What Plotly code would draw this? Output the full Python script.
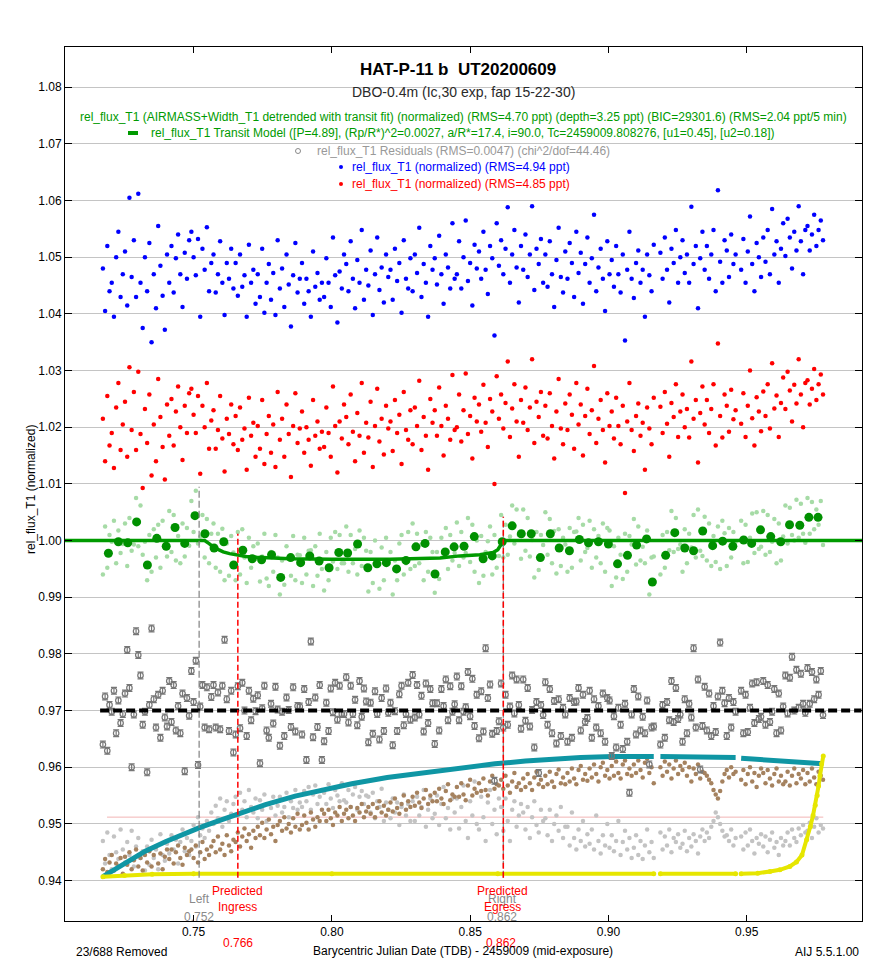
import plotly.graph_objects as go

# ---------------- data ----------------
# exposure mid-times, BJD_TDB - 2459009, in units of 1e-4 day (every other exposure)
TIME_E4 = [
    7172, 7180, 7188, 7196, 7204, 7212, 7220, 7228, 7236, 7244,
    7252, 7260, 7268, 7276, 7284, 7292, 7300, 7308, 7316, 7324,
    7332, 7340, 7348, 7356, 7364, 7372, 7380, 7388, 7396, 7404,
    7412, 7420, 7428, 7436, 7444, 7452, 7460, 7468, 7476, 7484,
    7492, 7500, 7508, 7516, 7524, 7532, 7540, 7548, 7556, 7564,
    7572, 7580, 7588, 7596, 7604, 7612, 7620, 7628, 7636, 7644,
    7652, 7660, 7668, 7676, 7684, 7692, 7700, 7708, 7716, 7724,
    7732, 7740, 7748, 7756, 7764, 7772, 7780, 7788, 7796, 7804,
    7812, 7820, 7828, 7836, 7844, 7852, 7860, 7868, 7876, 7884,
    7892, 7900, 7908, 7916, 7924, 7932, 7940, 7948, 7956, 7964,
    7972, 7980, 7988, 7996, 8004, 8012, 8020, 8028, 8036, 8044,
    8052, 8060, 8068, 8076, 8084, 8092, 8100, 8108, 8116, 8124,
    8132, 8140, 8148, 8156, 8164, 8172, 8180, 8188, 8196, 8204,
    8212, 8220, 8228, 8236, 8244, 8252, 8260, 8268, 8276, 8284,
    8292, 8300, 8308, 8316, 8324, 8332, 8340, 8348, 8356, 8364,
    8372, 8380, 8388, 8396, 8404, 8412, 8420, 8428, 8436, 8444,
    8452, 8460, 8468, 8476, 8484, 8492, 8500, 8508, 8516, 8524,
    8532, 8540, 8548, 8556, 8564, 8572, 8580, 8588, 8596, 8604,
    8612, 8620, 8628, 8636, 8644, 8652, 8660, 8668, 8676, 8684,
    8692, 8700, 8708, 8716, 8724, 8732, 8740, 8748, 8756, 8764,
    8772, 8780, 8788, 8796, 8804, 8812, 8820, 8828, 8836, 8844,
    8852, 8860, 8868, 8876, 8884, 8892, 8900, 8908, 8916, 8924,
    8932, 8940, 8948, 8956, 8964, 8972, 8980, 8988, 8996, 9004,
    9012, 9020, 9028, 9036, 9044, 9052, 9060, 9068, 9076, 9084,
    9092, 9100, 9108, 9116, 9124, 9132, 9140, 9148, 9156, 9164,
    9188, 9196, 9204, 9212, 9220, 9228, 9236, 9244, 9252, 9260,
    9268, 9276, 9284, 9292, 9300, 9308, 9316, 9324, 9332, 9340,
    9348, 9356, 9364, 9372, 9380, 9388, 9396, 9404, 9412, 9420,
    9428, 9436, 9444, 9452, 9460,
    9480, 9488, 9496, 9504, 9512, 9520, 9528, 9536, 9544, 9552,
    9560, 9568, 9576, 9584, 9592, 9600, 9608, 9616, 9624, 9632,
    9640, 9648, 9656, 9664, 9672, 9680, 9688, 9696, 9704, 9712,
    9720, 9728, 9736, 9744, 9752, 9760, 9768, 9776,
]

# blue: rel_flux_T1 (normalized), (flux - 1) * 1e4
BLUE_E4 = [
    480, 405, 520, 440, 455, 395, 500, 545, 430, 470,
    510, 415, 605, 465, 530, 430, 612, 455, 375, 500,
    440, 525, 350, 470, 410, 555, 485, 432, 372, 505,
    455, 520, 438, 498, 540, 470, 412, 508, 462, 530,
    545, 500, 468, 532, 395, 515, 478, 553, 440, 490,
    505, 438, 470, 528, 455, 398, 490, 462, 515, 445,
    490, 432, 505, 448, 468, 395, 522, 455, 478, 418,
    470, 430, 515, 402, 455, 488, 425, 472, 398, 530,
    445, 480, 412, 505, 452, 378, 468, 525, 438, 462,
    490, 418, 462, 440, 395, 510, 448, 472, 425, 455,
    430, 498, 455, 412, 535, 468, 385, 475, 445, 505,
    488, 440, 528, 462, 410, 495, 455, 548, 425, 478,
    450, 512, 398, 470, 535, 442, 482, 420, 505, 465,
    478, 425, 515, 458, 490, 402, 530, 462, 445, 498,
    440, 505, 472, 552, 430, 488, 455, 395, 520, 478,
    498, 452, 538, 470, 418, 505, 482, 445, 560, 462,
    470, 528, 445, 500, 565, 458, 490, 415, 522, 480,
    510, 462, 545, 478, 435, 520, 498, 362, 560, 485,
    530, 470, 515, 588, 455, 505, 548, 482, 420, 520,
    478, 540, 465, 505, 590, 442, 515, 488, 532, 455,
    505, 448, 528, 470, 412, 495, 552, 465, 438, 510,
    462, 525, 490, 430, 545, 472, 508, 418, 488, 535,
    455, 498, 575, 440, 482, 515, 462, 405, 528, 470,
    495, 448, 520, 470, 438, 505, 353, 478, 545, 462,
    428, 490, 512, 455, 478, 395, 505, 468, 440, 522,
    508, 462, 535, 478, 420, 515, 490, 548, 455, 500,
    530, 472, 505, 455, 589, 488, 520, 410, 498, 545,
    478, 520, 462, 505, 548, 440, 618, 492, 455, 530,
    512, 465, 540, 488, 505,
    478, 532, 455, 510, 572, 488, 440, 525, 500, 465,
    535, 492, 548, 470, 585, 505, 528, 455, 515, 560,
    502, 568, 535, 480, 545, 512, 590, 528, 470, 548,
    555, 512, 540, 575, 520, 548, 565, 530,
]

# red: rel_flux_T1 (normalized), (flux - 1) * 1e4
RED_E4 = [
    215, 140, 255, 168, 190, 128, 235, 278, 160, 205,
    245, 148, 306, 195, 262, 160, 298, 188, 93, 232,
    172, 258, 115, 205, 140, 285, 218, 165, 108, 240,
    185, 250, 168, 228, 272, 200, 142, 238, 190, 260,
    268, 222, 190, 255, 118, 238, 200, 278, 162, 212,
    230, 162, 195, 255, 180, 122, 215, 188, 240, 170,
    220, 160, 235, 178, 198, 125, 252, 185, 208, 148,
    202, 162, 248, 135, 188, 220, 155, 205, 130, 262,
    178, 215, 148, 240, 188, 112, 202, 260, 172, 198,
    228, 155, 200, 178, 132, 248, 185, 210, 162, 192,
    165, 235, 190, 148, 272, 202, 120, 210, 180, 240,
    218, 170, 258, 192, 140, 225, 185, 278, 155, 208,
    182, 245, 130, 202, 268, 175, 215, 152, 238, 198,
    210, 158, 248, 190, 222, 135, 262, 195, 178, 230,
    170, 235, 202, 282, 160, 218, 185, 125, 250, 208,
    230, 185, 270, 202, 150, 238, 215, 178, 292, 195,
    200, 258, 175, 230, 295, 188, 220, 145, 252, 210,
    240, 192, 275, 208, 165, 250, 228, 100, 290, 215,
    258, 198, 243, 316, 183, 233, 276, 210, 148, 248,
    208, 270, 195, 235, 320, 172, 245, 218, 262, 185,
    238, 180, 260, 202, 145, 228, 285, 198, 170, 242,
    195, 258, 222, 162, 278, 205, 240, 150, 220, 268,
    188, 230, 308, 172, 215, 248, 195, 138, 260, 202,
    228, 180, 252, 202, 170, 238, 84, 210, 278, 195,
    158, 220, 242, 185, 208, 125, 235, 198, 170, 252,
    236, 190, 262, 206, 148, 243, 218, 276, 183, 228,
    258, 200, 232, 182, 316, 215, 248, 138, 225, 272,
    205, 248, 190, 232, 276, 168, 348, 220, 182, 258,
    238, 192, 266, 214, 230,
    206, 260, 183, 238, 300, 216, 168, 253, 228, 193,
    263, 220, 276, 198, 313, 233, 256, 183, 243, 288,
    232, 298, 265, 210, 275, 242, 320, 258, 200, 278,
    283, 240, 268, 303, 248, 276, 293, 258,
]

# light green: detrended rel_flux_T1, (flux - 1) * 1e4
DETR_E4 = [
    -60, 25, -48, 10, -2, 35, -40, 18, -22, -6,
    30, -45, 40, -18, -7, 75, -10, 62, -25, -2,
    -70, 10, -55, 20, -30, 28, -48, 35, -12, -28,
    52, -20, 45, -35, 8, -40, 30, -28, 22, -9,
    70, 15, 88, -5, 7, 45, -30, 38, -40, 12,
    30, -48, 12, -55, 21, -70, -5, -62, 8, -21,
    -70, 15, -60, 20, -30, -75, 5, -48, -10, -32,
    -5, -72, -28, 12, -67, -80, -20, -55, 10, -30,
    -95, -35, -78, -10, -32, -62, 8, -70, -25, -26,
    -75, 5, -60, -18, -17, -80, -10, -62, 12, -50,
    -88, -20, -70, 5, -37, 15, -50, 10, -40, -40,
    25, -55, 10, -40, -15, -60, 18, -45, 5, -18,
    -90, -20, -75, 0, -40, -85, -12, -70, 5, -38,
    -20, -95, -35, -70, -5, 10, -60, -40, 15, -50,
    30, -45, 12, -40, -7, -70, 15, -55, 5, -20,
    -92, -20, -68, 5, -25, 22, -50, 10, -35, -22,
    32, -45, 15, -30, -22, 40, -38, 28, -55, 0,
    -75, 8, -62, -20, -1, 25, -60, 10, -48, -27,
    45, -30, 28, -25, 7, 62, -5, 55, 10, -32,
    55, -18, 40, -28, 1, -65, 15, -52, 10, -8,
    50, -25, 38, -40, 17, -58, 20, -45, 5, -7,
    -55, 22, -48, 15, 16, 40, -35, 28, -20, -13,
    35, -48, 20, -30, 8, -40, 30, -55, 22, 18,
    -80, -10, -65, 5, -25, -68, 12, -55, 8, -7,
    38, -42, 25, -35, -11, -40, 18, -95, -30, -28,
    -60, 10, -48, 15, -17, 52, -20, 40, -15, -7,
    -55, 20, -40, 12, -12, 45, -30, 55, -18, -27,
    42, -35, 30, -45, 8, -38, 25, -50, 35, 13,
    -45, 22, -30, 15, -2,
    35, -40, 28, -38, 5, 48, -22, 50, -15, -11,
    52, -25, 45, -20, -2, 38, -40, 30, -35, 7,
    62, -5, 58, 10, 0, 72, 5, 65, 12, -4,
    75, 12, 68, 20, 55, 28, 70, -8,
]

# grey: residuals * 1e4 (plotted shifted to RESID_OFFSET)
RESID_E4 = [
    -60, 25, -71, 10, -2, 35, -40, 18, -22, -6,
    30, 107, 40, -100, -7, 140, 98, 62, -25, -2,
    -109, 10, 145, 20, -30, 28, -48, 35, -12, -28,
    52, -20, 45, -35, 8, -40, 30, -107, 22, -9,
    70, 15, 88, -96, 7, 45, -30, 41, -33, 24,
    45, -30, 32, -33, 44, 125, 20, -36, 35, -74,
    -42, 43, -31, 49, 0, -45, 35, -17, 21, -1,
    27, -93, 4, 44, -35, -48, 12, -23, 42, 2,
    -62, -2, -45, 23, 1, -29, 41, -37, 8, 7,
    -42, 38, -87, 15, 122, -47, 23, -29, 45, -87,
    -54, 14, -36, 39, -3, 49, -16, 44, -6, -6,
    59, -21, 44, -6, 19, -26, 52, -11, 39, 16,
    -56, 14, -41, 34, -6, -51, 22, -36, 39, -4,
    14, -61, -1, -36, 29, 44, -26, -6, 49, -16,
    63, -12, 45, -7, 26, -37, 48, -22, 38, 13,
    -59, 13, -35, 38, 8, 55, -17, 43, -2, 11,
    60, -17, 43, -2, 6, 68, -10, 56, -27, 28,
    -49, 34, -37, 110, 22, 46, -41, -124, -36, -19,
    48, -30, 28, -25, 7, 62, -5, 55, 10, -32,
    55, -18, 40, -28, 1, -65, 15, -110, 10, -8,
    50, -25, 38, -40, 17, -58, 20, -45, 5, -7,
    -55, 22, -48, 15, 16, 40, -35, 28, -20, -13,
    35, -48, 20, -30, 8, -40, 30, -55, 22, 18,
    -80, -10, -65, 5, -25, -68, 12, -55, -145, -7,
    38, -42, 25, -35, -11, -40, 18, -95, -30, -28,
    -60, 10, -48, 15, -17, 52, -20, 40, -15, -7,
    -55, 20, -40, 12, -12, 110, -30, 55, -104, -27,
    42, -35, 30, -45, 8, -38, 25, 120, 35, 13,
    -45, 22, -30, 15, -2,
    35, -40, 28, -38, 5, 48, -22, 50, -15, -11,
    52, -25, 45, -20, -2, 38, -40, 30, -35, 7,
    62, -5, 58, 95, 0, 72, 5, 65, 12, -4,
    75, 12, 68, 20, 55, 28, 70, -8,
]
RESID_OFFSET = 0.97
RESID_ERR = 0.0006

# brown auxiliary series, value * 1e4
BROWN_E4 = [
    9420, 9438, 9415, 9432, 9445, 9418, 9430, 9425, 9440, 9412,
    9442, 9428, 9450, 9420, 9436, 9455, 9425, 9440, 9418, 9445,
    9432, 9452, 9425, 9445, 9460, 9430, 9448, 9420, 9442, 9455,
    9438, 9455, 9430, 9450, 9462, 9440, 9428, 9458, 9445, 9452,
    9455, 9440, 9462, 9432, 9450, 9468, 9438, 9455, 9445, 9460,
    9470, 9450, 9478, 9455, 9465, 9445, 9480, 9462, 9452, 9472,
    9468, 9485, 9460, 9478, 9492, 9470, 9482, 9458, 9488, 9475,
    9495, 9480, 9502, 9475, 9490, 9508, 9482, 9495, 9470, 9498,
    9505, 9488, 9512, 9492, 9500, 9485, 9510, 9495, 9518, 9490,
    9498, 9515, 9502, 9490, 9520, 9508, 9495, 9512, 9505, 9525,
    9518, 9505, 9525, 9510, 9498, 9520, 9515, 9530, 9505, 9518,
    9525, 9510, 9530, 9515, 9505, 9528, 9520, 9535, 9512, 9522,
    9530, 9518, 9535, 9512, 9528, 9540, 9520, 9532, 9515, 9525,
    9538, 9522, 9545, 9528, 9518, 9535, 9550, 9525, 9540, 9530,
    9548, 9532, 9555, 9538, 9528, 9545, 9560, 9535, 9550, 9540,
    9555, 9540, 9562, 9545, 9535, 9558, 9570, 9542, 9552, 9548,
    9565, 9548, 9572, 9552, 9542, 9568, 9578, 9550, 9562, 9555,
    9572, 9558, 9580, 9560, 9550, 9575, 9585, 9562, 9570, 9568,
    9578, 9562, 9585, 9568, 9555, 9575, 9590, 9565, 9572, 9560,
    9580, 9565, 9588, 9572, 9560, 9582, 9592, 9570, 9578, 9565,
    9585, 9570, 9592, 9575, 9565, 9588, 9596, 9572, 9582, 9570,
    9590, 9575, 9598, 9580, 9570, 9595, 9602, 9578, 9588, 9576,
    9598, 9582, 9605, 9588, 9575, 9600, 9608, 9585, 9595, 9580,
    9602, 9585, 9610, 9590, 9580, 9605, 9612, 9588, 9598, 9585,
    9605, 9590, 9612, 9595, 9582, 9608, 9615, 9590, 9600, 9572,
    9600, 9585, 9610, 9592, 9605, 9580, 9598, 9612, 9588, 9602,
    9595, 9608, 9585, 9600, 9575, 9598, 9588, 9605, 9580, 9592,
    9590, 9585, 9578, 9572, 9560, 9552, 9545, 9558, 9575, 9588,
    9595, 9582, 9600, 9588, 9592,
    9578, 9595, 9570, 9588, 9600, 9575, 9590, 9565, 9585, 9598,
    9590, 9572, 9595, 9580, 9568, 9588, 9598, 9575, 9585, 9570,
    9575, 9592, 9568, 9585, 9598, 9572, 9588, 9580, 9595, 9570,
    9590, 9575, 9598, 9582, 9570, 9592, 9585, 9578,
]

# light grey auxiliary series, value * 1e4
LGREY_E4 = [
    9470, 9430, 9485, 9445, 9420, 9478, 9450, 9438, 9490, 9455,
    9432, 9468, 9445, 9488, 9425, 9460, 9475, 9440, 9452, 9418,
    9460, 9428, 9472, 9440, 9455, 9420, 9482, 9445, 9435, 9465,
    9448, 9480, 9455, 9472, 9430, 9468, 9490, 9452, 9475, 9445,
    9470, 9498, 9460, 9512, 9480, 9492, 9475, 9505, 9488, 9520,
    9500, 9532, 9510, 9545, 9495, 9525, 9540, 9505, 9518, 9535,
    9548, 9515, 9555, 9525, 9540, 9512, 9560, 9530, 9520, 9545,
    9510, 9542, 9525, 9552, 9505, 9535, 9528, 9548, 9515, 9532,
    9548, 9520, 9530, 9555, 9512, 9540, 9528, 9560, 9525, 9538,
    9530, 9558, 9540, 9565, 9525, 9552, 9568, 9535, 9548, 9560,
    9555, 9535, 9570, 9545, 9528, 9560, 9550, 9540, 9572, 9542,
    9538, 9560, 9530, 9552, 9565, 9525, 9548, 9558, 9535, 9550,
    9548, 9520, 9555, 9510, 9540, 9530, 9562, 9505, 9538, 9525,
    9510, 9545, 9520, 9538, 9498, 9530, 9552, 9515, 9535, 9505,
    9540, 9505, 9548, 9515, 9530, 9560, 9495, 9525, 9545, 9510,
    9518, 9550, 9498, 9535, 9565, 9510, 9528, 9490, 9545, 9520,
    9545, 9492, 9530, 9568, 9505, 9475, 9540, 9515, 9575, 9500,
    9490, 9548, 9512, 9470, 9538, 9560, 9500, 9525, 9482, 9545,
    9530, 9488, 9545, 9505, 9470, 9525, 9540, 9495, 9515, 9535,
    9520, 9490, 9530, 9475, 9512, 9540, 9498, 9485, 9525, 9505,
    9510, 9480, 9525, 9470, 9500, 9515, 9488, 9530, 9475, 9495,
    9495, 9462, 9520, 9475, 9455, 9490, 9470, 9505, 9460, 9482,
    9465, 9490, 9455, 9515, 9470, 9448, 9480, 9462, 9500, 9458,
    9480, 9452, 9470, 9505, 9445, 9468, 9488, 9455, 9475, 9440,
    9458, 9480, 9445, 9470, 9438, 9462, 9490, 9450, 9468, 9440,
    9485, 9455, 9478, 9462, 9490, 9450, 9475, 9468, 9482, 9458,
    9465, 9488, 9452, 9475, 9460, 9482, 9470, 9448, 9478, 9490,
    9470, 9485, 9475, 9495, 9505, 9520, 9512, 9500, 9488, 9478,
    9480, 9470, 9490, 9462, 9475,
    9478, 9455, 9485, 9462, 9490, 9470, 9448, 9475, 9465, 9482,
    9460, 9478, 9450, 9472, 9485, 9458, 9468, 9445, 9475, 9462,
    9470, 9485, 9462, 9490, 9475, 9468, 9492, 9480, 9498, 9485,
    9488, 9502, 9475, 9495, 9510, 9485, 9498, 9492,
]

# 5-minute binned detrended points (dark green)
BIN_T = [
    0.7192, 0.7228, 0.7262, 0.7294, 0.7333, 0.7367, 0.7401, 0.7433, 0.7468, 0.7505,
    0.7541, 0.7574, 0.7609, 0.7645, 0.7678, 0.7712, 0.7746, 0.7782, 0.7815, 0.7851,
    0.7887, 0.7920, 0.7954, 0.7990, 0.8025, 0.8057, 0.8093, 0.8130, 0.8163, 0.8197,
    0.8234, 0.8268, 0.8304, 0.8337, 0.8373, 0.8410, 0.8442, 0.8478, 0.8515, 0.8547,
    0.8580, 0.8616, 0.8652, 0.8685, 0.8721, 0.8754, 0.8790, 0.8822, 0.8859, 0.8895,
    0.8928, 0.8964, 0.9000, 0.9033, 0.9069, 0.9102, 0.9138, 0.9159, 0.9207, 0.9240,
    0.9276, 0.9308, 0.9341, 0.9377, 0.9413, 0.9450, 0.9489, 0.9518, 0.9550, 0.9587,
    0.9623, 0.9655, 0.9692, 0.9725, 0.9758,
]
BIN_Y = [
    0.99776, 0.9998, 0.9996, 1.0033, 0.9957, 1.0004, 0.9990, 1.0023, 0.9995, 1.0044,
    1.0012, 0.9987, 0.9998, 0.9957, 0.9983, 0.9968, 0.9966, 0.9975, 0.9935, 0.9970,
    0.9961, 0.9973, 0.9964, 0.9952, 0.9979, 0.9978, 0.9994, 0.9952, 0.9959, 0.9961,
    0.9950, 0.9965, 0.9989, 0.9995, 0.9941, 0.9980, 0.9989, 0.9990, 1.0007, 0.9968,
    0.9973, 0.9998, 1.0026, 1.0012, 1.0012, 0.9970, 1.0012, 0.9987, 0.9982, 1.0002,
    0.9996, 0.9998, 0.9994, 0.9959, 0.9974, 0.9992, 1.0003, 0.9927, 0.9974, 1.0014,
    0.9987, 0.9982, 1.0017, 0.9991, 0.9999, 0.9990, 1.0001, 0.9995, 1.0019, 1.0007,
    0.9998, 1.0028, 1.0027, 1.0041, 1.0041,
]

# transit model
MODEL_T = [0.7035, 0.7540, 0.7555, 0.7571, 0.7590, 0.7607, 0.7630, 0.7656, 0.7690, 0.7728,
           0.7790, 0.7849, 0.8000, 0.8210, 0.8391, 0.8463, 0.8535, 0.8565, 0.8583, 0.8600,
           0.8608, 0.8618, 0.8625, 0.9917]
MODEL_Y = [1.0, 1.0, 0.9995, 0.9989, 0.9984, 0.9980, 0.9977, 0.99746, 0.9972, 0.99705,
           0.9969, 0.9968, 0.99672, 0.99670, 0.99693, 0.9973, 0.9975, 0.9977, 0.9979, 0.9984,
           0.9991, 0.9998, 1.0, 1.0]

# teal (airmass-like) curve
TEAL_T = [0.7172, 0.7250, 0.7325, 0.7400, 0.7450, 0.7524, 0.7600, 0.7662, 0.7760, 0.7867,
          0.7970, 0.8072, 0.8200, 0.8349, 0.8470, 0.8590, 0.8700, 0.8800, 0.8900, 0.9017,
          0.9164, None, 0.9188, 0.9300, 0.9378, 0.9460, None, 0.9480, 0.9620, 0.9776]
TEAL_Y = [0.9407, 0.9431, 0.9452, 0.9469, 0.9480, 0.9494, 0.9507, 0.9518, 0.9534, 0.9549,
          0.9561, 0.9571, 0.9582, 0.9592, 0.9600, 0.9606, 0.9611, 0.9615, 0.9617, 0.9619,
          0.9619, None, 0.9619, 0.9619, 0.9618, 0.9617, None, 0.9616, 0.9611, 0.9606]

# yellow curve
YEL_T = [0.7172, 0.7250, 0.7350, 0.7500, 0.8000, 0.8600, 0.9164, None, 0.9188, 0.9460, None,
         0.9480, 0.9540, 0.9584, 0.9620, 0.9656, 0.9680, 0.9700, 0.9717, 0.9730, 0.9740,
         0.9748, 0.9755, 0.9760, 0.9765, 0.9771, 0.9777]
YEL_Y = [0.9407, 0.9409, 0.9411, 0.9412, 0.9412, 0.9412, 0.9412, None, 0.9412, 0.9412, None,
         0.9412, 0.9413, 0.9416, 0.9419, 0.9425, 0.9433, 0.9445, 0.9472, 0.9495, 0.9515,
         0.9533, 0.9550, 0.9567, 0.9585, 0.9606, 0.9620]

# reference levels / markers
PINK_LEVEL = 0.9512
PINK_SPAN = [0.7187, 0.9777]
RESID_LINE_SPAN = [0.7162, 0.9915]
LEFT_T, RIGHT_T = 0.752, 0.862
INGRESS_T, EGRESS_T = 0.766, 0.862
X_TICKS = [0.75, 0.80, 0.85, 0.90, 0.95]

# ---------------- figure ----------------
# the page body has an 8px margin; size the figure so the plot area lands at
# page pixels x 65..862, y 47..921 inside the 879x963 window
BODY = 8
W, H = 879 - BODY, 963 - BODY
PL, PR, PT, PB = 65, 862, 47, 921          # plot box in page pixels
ML, MT = PL - BODY, PT - BODY
MR, MB = (BODY + W) - PR, (BODY + H) - PB
PW, PH = PR - PL, PB - PT
FONT = "Liberation Sans, Arial, sans-serif"


def PX(p):
    return (p - PL) / PW


def PY(p):
    return (PB - p) / PH


t = [v / 1e4 for v in TIME_E4]
n = min(len(t), len(BLUE_E4), len(RED_E4), len(DETR_E4), len(RESID_E4),
        len(BROWN_E4), len(LGREY_E4))
t = t[:n]

fig = go.Figure()


def pts(y, color, size=4.5):
    fig.add_trace(go.Scatter(x=t, y=y, mode="markers",
                             marker=dict(color=color, size=size, line=dict(width=0)),
                             showlegend=False, hoverinfo="skip"))


pts([v / 1e4 for v in LGREY_E4[:n]], "#c3c3c3")
pts([v / 1e4 for v in BROWN_E4[:n]], "#a5825f")

fig.add_trace(go.Scatter(x=TEAL_T, y=TEAL_Y, mode="lines",
                         line=dict(color="#0f96a4", width=5), connectgaps=False,
                         showlegend=False, hoverinfo="skip"))
fig.add_trace(go.Scatter(x=YEL_T, y=YEL_Y, mode="lines+markers",
                         line=dict(color="#e6e600", width=4),
                         marker=dict(color="#e6e600", size=5), connectgaps=False,
                         showlegend=False, hoverinfo="skip"))

fig.add_trace(go.Scatter(x=t, y=[RESID_OFFSET + v / 1e4 for v in RESID_E4[:n]],
                         mode="markers",
                         marker=dict(symbol="circle-open", color="#777777", size=5.5,
                                     line=dict(width=1.2, color="#777777")),
                         error_y=dict(type="constant", value=RESID_ERR, thickness=1.2,
                                      width=3, color="#777777"),
                         showlegend=False, hoverinfo="skip"))

pts([1 + v / 1e4 for v in DETR_E4[:n]], "#a6dba6")
fig.add_trace(go.Scatter(x=MODEL_T, y=MODEL_Y, mode="lines",
                         line=dict(color="#009a00", width=3.5),
                         showlegend=False, hoverinfo="skip"))
fig.add_trace(go.Scatter(x=BIN_T, y=BIN_Y, mode="markers",
                         marker=dict(color="#009000", size=9, line=dict(width=0)),
                         showlegend=False, hoverinfo="skip"))
pts([1 + v / 1e4 for v in RED_E4[:n]], "#ff0000")
pts([1 + v / 1e4 for v in BLUE_E4[:n]], "#0000ff")

shapes = []
shapes.append(dict(type="line", xref="x", yref="y", x0=PINK_SPAN[0], x1=PINK_SPAN[1],
                   y0=PINK_LEVEL, y1=PINK_LEVEL, layer="between",
                   line=dict(color="#f2b4b4", width=1)))
shapes.append(dict(type="line", xref="x", yref="y", x0=RESID_LINE_SPAN[0], x1=RESID_LINE_SPAN[1],
                   y0=RESID_OFFSET, y1=RESID_OFFSET, layer="above",
                   line=dict(color="#000000", width=4, dash="9px,4px")))
shapes.append(dict(type="line", xref="x", yref="y", x0=LEFT_T, x1=LEFT_T, y0=0.9405, y1=1.0095,
                   layer="above", line=dict(color="#808080", width=1.2, dash="7px,3px")))
shapes.append(dict(type="line", xref="x", yref="y", x0=RIGHT_T, x1=RIGHT_T, y0=0.9405, y1=1.0042,
                   layer="above", line=dict(color="#808080", width=1.2, dash="7px,3px")))
shapes.append(dict(type="line", xref="x", yref="y", x0=INGRESS_T, x1=INGRESS_T, y0=0.9405, y1=1.0012,
                   layer="above", line=dict(color="#ff0000", width=1.5, dash="6px,3px")))
shapes.append(dict(type="line", xref="x", yref="y", x0=EGRESS_T, x1=EGRESS_T, y0=0.9405, y1=1.0042,
                   layer="above", line=dict(color="#ff0000", width=1.5, dash="6px,3px")))
# legend symbols
shapes.append(dict(type="rect", xref="paper", yref="paper", xsizemode="pixel", ysizemode="pixel",
                   xanchor=PX(133), yanchor=PY(133), x0=-5, x1=5, y0=-2, y1=2,
                   fillcolor="#009a00", line=dict(width=0)))
shapes.append(dict(type="circle", xref="paper", yref="paper", xsizemode="pixel", ysizemode="pixel",
                   xanchor=PX(298), yanchor=PY(151), x0=-2.5, x1=2.5, y0=-2.5, y1=2.5,
                   line=dict(color="#8a8a8a", width=1)))
shapes.append(dict(type="circle", xref="paper", yref="paper", xsizemode="pixel", ysizemode="pixel",
                   xanchor=PX(341), yanchor=PY(167), x0=-2, x1=2, y0=-2, y1=2,
                   fillcolor="#0000ff", line=dict(width=0)))
shapes.append(dict(type="circle", xref="paper", yref="paper", xsizemode="pixel", ysizemode="pixel",
                   xanchor=PX(341), yanchor=PY(184), x0=-2, x1=2, y0=-2, y1=2,
                   fillcolor="#ff0000", line=dict(width=0)))

ann = []


def text(x, y, s, size=12, color="#000000", xanchor="center", angle=0):
    ann.append(dict(x=PX(x), y=PY(y), xref="paper", yref="paper", text=s, showarrow=False,
                    xanchor=xanchor, yanchor="middle", textangle=angle,
                    font=dict(family=FONT, size=size, color=color)))


text(458, 70, "<b>HAT-P-11 b\u00a0\u00a0UT20200609</b>", size=17)
text(463, 92, "DBO-0.4m (Ic,30 exp, fap 15-22-30)", size=14, color="#2a2a2a")
text(463, 117, "rel_flux_T1 (AIRMASS+Width_T1 detrended with transit fit) (normalized) "
               "(RMS=4.70 ppt) (depth=3.25 ppt) (BIC=29301.6) (RMS=2.04 ppt/5 min)",
     size=12, color="#009a00")
text(463, 133, "rel_flux_T1 Transit Model ([P=4.89], (Rp/R*)^2=0.0027, a/R*=17.4, i=90.0, "
               "Tc=2459009.808276, [u1=0.45], [u2=0.18])", size=12, color="#009a00")
text(463, 151, "rel_flux_T1 Residuals (RMS=0.0047) (chi^2/dof=44.46)", size=12, color="#999999")
text(461, 167, "rel_flux_T1 (normalized) (RMS=4.94 ppt)", size=12, color="#0000ff")
text(461, 184, "rel_flux_T1 (normalized) (RMS=4.85 ppt)", size=12, color="#ff0000")

# marker labels inside plot
text(199, 899, "Left", color="#8a8a8a")
text(199, 916.5, "0.752", color="#8a8a8a")
text(502, 899, "Right", color="#8a8a8a")
text(502, 916.5, "0.862", color="#8a8a8a")
text(237, 891, "Predicted", color="#ff0000")
text(237, 906.5, "Ingress", color="#ff0000")
text(502, 891, "Predicted", color="#ff0000")
text(502, 906.5, "Egress", color="#ff0000")

# outside texts
text(238, 942.5, "0.766", color="#ff0000")
text(501, 942.5, "0.862", color="#ff0000")
text(74, 952, "23/688 Removed", xanchor="left")
text(463, 950.5, "Barycentric Julian Date (TDB) - 2459009 (mid-exposure)")
text(861, 952, "AIJ 5.5.1.00", xanchor="right")
text(31, 490, "rel_flux_T1 (normalized)", angle=-90)

fig.update_layout(
    width=W, height=H,
    margin=dict(l=ML, r=MR, t=MT, b=MB, autoexpand=False),
    paper_bgcolor="#ffffff", plot_bgcolor="#ffffff",
    font=dict(family=FONT, size=12, color="#000000"),
    showlegend=False,
    shapes=shapes,
    annotations=ann,
    xaxis=dict(range=[0.7035, 0.9917], tickmode="array", tickvals=X_TICKS,
               ticktext=["%.2f" % v for v in X_TICKS],
               ticks="inside", ticklen=6, tickcolor="#000000", tickwidth=1,
               showline=True, linecolor="#000000", linewidth=1, mirror="ticks",
               showgrid=False, zeroline=False, tickfont=dict(size=12, color="#000000")),
    yaxis=dict(range=[0.93287, 1.0871], tick0=0.94, dtick=0.01, tickformat=".2f",
               ticks="inside", ticklen=7, tickcolor="#000000", tickwidth=1,
               showline=True, linecolor="#000000", linewidth=1, mirror="ticks",
               showgrid=True, gridcolor="#c4c4c4", gridwidth=1, zeroline=False,
               tickfont=dict(size=12, color="#000000")),
)

fig.write_html("out.html")
